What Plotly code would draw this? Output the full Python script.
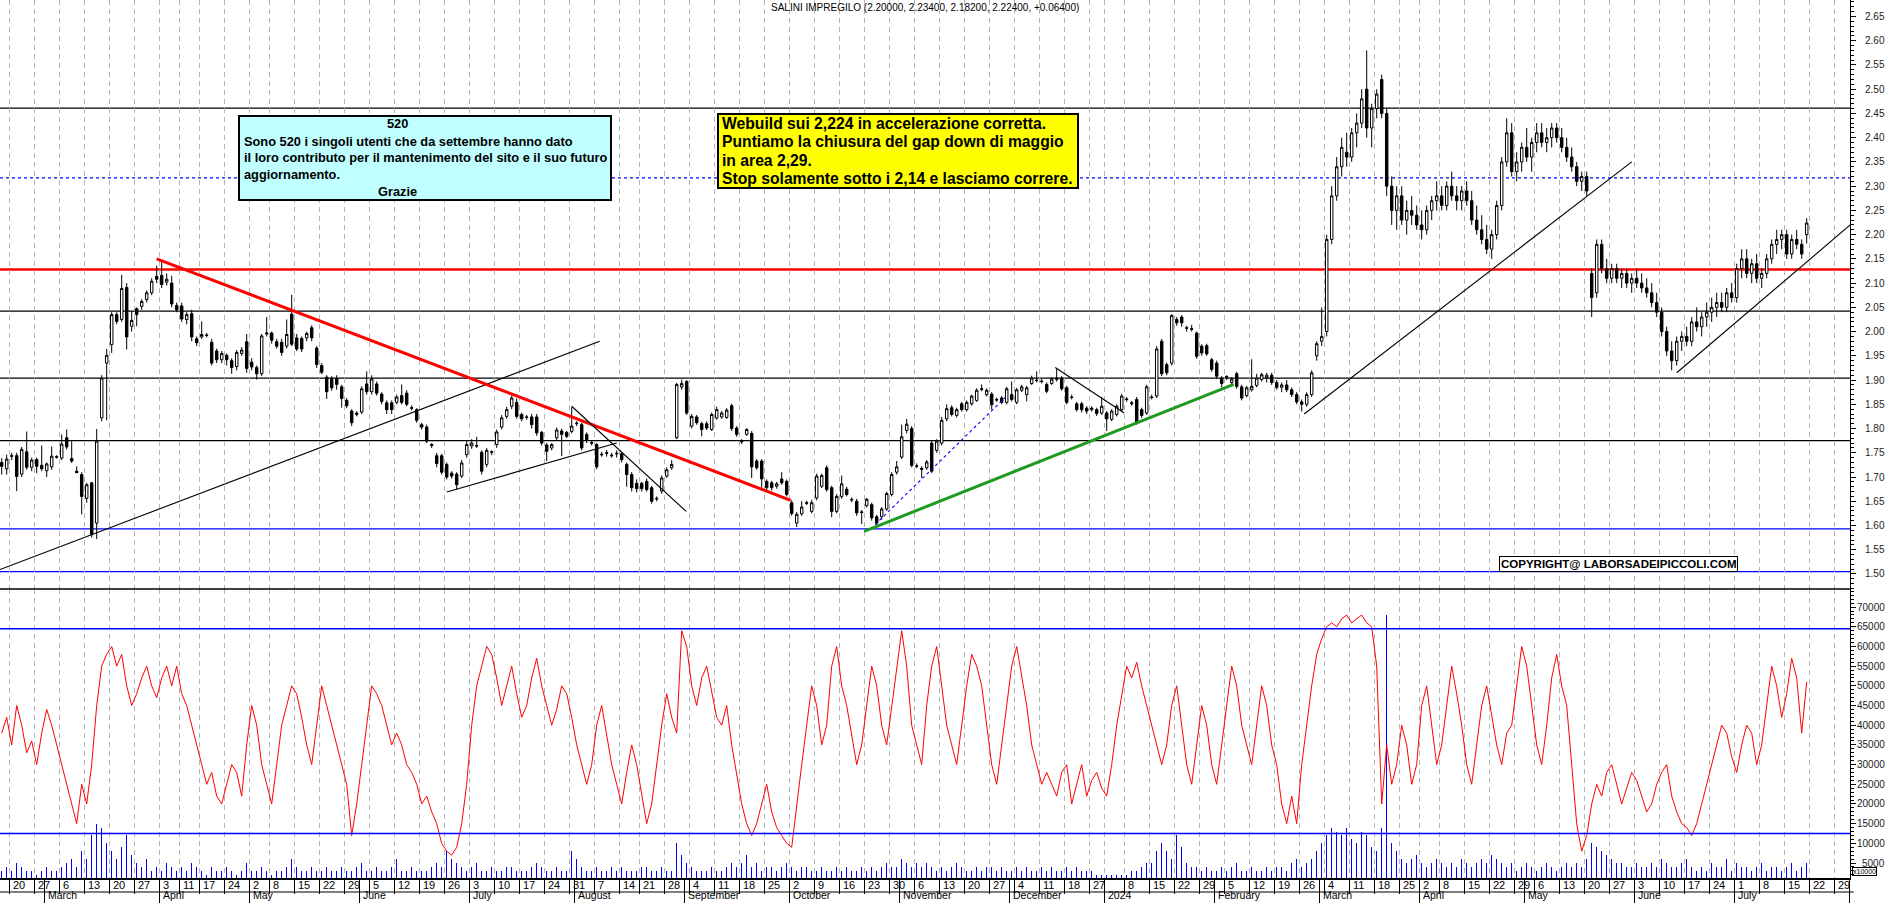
import pandas as pd
import plotly.graph_objects as go
from plotly.subplots import make_subplots

TITLE = "SALINI IMPREGILO (2.20000, 2.23400, 2.18200, 2.22400, +0.06400)"
START, END = "2023-02-16", "2024-07-31"
HOLIDAYS = ["2023-04-07", "2023-04-10", "2023-05-01", "2023-08-15", "2023-12-25",
            "2023-12-26", "2024-01-01", "2024-03-29", "2024-04-01", "2024-05-01"]

opens = [
1.730,1.717,1.744,1.744,1.706,1.752,1.720,1.736,1.724,1.713,
1.721,1.742,1.739,1.781,1.738,1.712,1.705,1.656,1.688,1.605,
1.822,1.935,1.973,2.035,2.025,2.091,2.011,2.047,2.052,2.066,
2.080,2.114,2.116,2.102,2.100,2.054,2.053,2.025,2.037,1.985,
1.989,1.993,1.978,1.960,1.942,1.951,1.940,1.928,1.955,1.979,
1.937,1.926,1.913,1.995,1.997,1.979,1.978,1.970,2.036,1.987,
1.986,1.987,2.008,1.966,1.930,1.906,1.903,1.903,1.886,1.858,
1.836,1.829,1.834,1.892,1.876,1.892,1.871,1.853,1.853,1.854,
1.868,1.873,1.843,1.839,1.808,1.803,1.767,1.744,1.744,1.726,
1.708,1.706,1.702,1.746,1.764,1.765,1.751,1.726,1.752,1.767,
1.803,1.825,1.846,1.854,1.829,1.824,1.824,1.824,1.792,1.766,
1.760,1.781,1.795,1.792,1.794,1.810,1.808,1.788,1.771,1.767,
1.747,1.750,1.745,1.749,1.748,1.726,1.705,1.687,1.687,1.691,
1.678,1.656,1.671,1.702,1.719,1.781,1.886,1.897,1.805,1.824,
1.810,1.810,1.798,1.822,1.824,1.823,1.847,1.801,1.774,1.788,
1.790,1.733,1.733,1.691,1.688,1.681,1.696,1.691,1.647,1.605,
1.624,1.647,1.629,1.657,1.681,1.719,1.678,1.629,1.660,1.675,
1.654,1.650,1.628,1.641,1.643,1.618,1.618,1.634,1.664,1.710,
1.741,1.796,1.800,1.723,1.718,1.719,1.770,1.755,1.770,1.820,
1.843,1.827,1.851,1.839,1.851,1.858,1.882,1.870,1.871,1.860,
1.863,1.854,1.870,1.854,1.879,1.870,1.893,1.900,1.898,1.891,
1.893,1.901,1.904,1.884,1.865,1.851,1.851,1.842,1.839,1.839,
1.832,1.832,1.819,1.829,1.839,1.861,1.851,1.860,1.839,1.832,
1.865,1.867,1.980,1.932,1.935,2.025,2.030,2.008,2.006,1.997,
1.970,1.971,1.942,1.935,1.904,1.907,1.895,1.913,1.886,1.868,
1.880,1.889,1.901,1.905,1.910,1.895,1.885,1.890,1.880,1.870,
1.855,1.850,1.870,1.950,1.980,2.000,2.190,2.280,2.340,2.370,
2.360,2.410,2.430,2.500,2.420,2.460,2.520,2.450,2.300,2.250,
2.280,2.230,2.250,2.240,2.220,2.210,2.250,2.270,2.280,2.260,
2.300,2.280,2.270,2.290,2.270,2.230,2.210,2.190,2.170,2.200,
2.260,2.350,2.410,2.330,2.350,2.380,2.360,2.390,2.410,2.390,
2.400,2.420,2.400,2.380,2.360,2.340,2.310,2.320,2.120,2.080,
2.180,2.130,2.110,2.130,2.110,2.120,2.100,2.110,2.100,2.090,
2.080,2.060,2.040,2.000,1.960,1.940,1.980,1.990,1.980,2.020,
2.010,2.030,2.040,2.050,2.060,2.050,2.080,2.070,2.130,2.150,
2.120,2.140,2.110,2.120,2.150,2.180,2.190,2.200,2.160,2.190,
2.180,2.200]

highs = [
1.739,1.746,1.750,1.750,1.762,1.794,1.740,1.740,1.765,1.730,
1.763,1.745,1.788,1.798,1.774,1.722,1.710,1.688,1.690,1.799,
1.910,1.964,2.040,2.040,2.117,2.100,2.042,2.050,2.067,2.085,
2.110,2.136,2.145,2.120,2.115,2.060,2.060,2.040,2.045,1.990,
2.021,1.997,1.985,1.965,1.960,1.955,1.945,1.962,1.968,1.995,
1.945,1.930,1.995,2.030,2.000,1.985,1.985,2.025,2.076,1.995,
1.990,2.000,2.013,1.970,1.935,1.910,1.908,1.910,1.890,1.863,
1.840,1.836,1.887,1.918,1.910,1.897,1.875,1.858,1.858,1.870,
1.891,1.879,1.848,1.842,1.812,1.808,1.770,1.750,1.748,1.730,
1.712,1.710,1.735,1.774,1.778,1.783,1.755,1.760,1.755,1.798,
1.828,1.845,1.868,1.862,1.833,1.828,1.830,1.830,1.795,1.770,
1.770,1.802,1.800,1.795,1.844,1.815,1.812,1.792,1.775,1.770,
1.752,1.756,1.750,1.755,1.752,1.730,1.710,1.695,1.690,1.697,
1.682,1.660,1.703,1.720,1.735,1.894,1.901,1.900,1.830,1.828,
1.814,1.815,1.833,1.845,1.836,1.842,1.851,1.805,1.778,1.801,
1.795,1.737,1.737,1.695,1.692,1.690,1.710,1.695,1.652,1.628,
1.650,1.651,1.653,1.707,1.707,1.724,1.682,1.665,1.703,1.680,
1.658,1.655,1.632,1.657,1.647,1.622,1.638,1.670,1.710,1.733,
1.808,1.820,1.805,1.728,1.722,1.735,1.775,1.778,1.824,1.850,
1.848,1.843,1.855,1.858,1.870,1.883,1.891,1.883,1.875,1.864,
1.867,1.886,1.897,1.884,1.890,1.888,1.909,1.918,1.902,1.895,
1.906,1.925,1.908,1.888,1.870,1.855,1.855,1.846,1.846,1.843,
1.865,1.836,1.840,1.850,1.871,1.865,1.857,1.865,1.843,1.890,
1.870,1.970,1.985,1.936,2.036,2.030,2.034,2.012,2.014,2.000,
1.974,1.975,1.946,1.940,1.908,1.910,1.906,1.917,1.890,1.888,
1.943,1.913,1.915,1.915,1.915,1.900,1.895,1.900,1.885,1.875,
1.860,1.875,1.920,1.980,2.050,2.200,2.300,2.360,2.400,2.410,
2.420,2.450,2.500,2.580,2.470,2.500,2.530,2.460,2.320,2.300,
2.300,2.270,2.280,2.260,2.250,2.260,2.280,2.310,2.300,2.310,
2.330,2.300,2.300,2.310,2.290,2.260,2.240,2.220,2.210,2.270,
2.360,2.440,2.430,2.370,2.390,2.420,2.400,2.430,2.430,2.420,
2.430,2.430,2.420,2.400,2.380,2.350,2.330,2.330,2.130,2.190,
2.190,2.150,2.140,2.140,2.130,2.130,2.120,2.130,2.120,2.110,
2.100,2.080,2.050,2.010,1.980,1.990,2.000,2.010,2.030,2.050,
2.040,2.060,2.070,2.080,2.080,2.090,2.100,2.140,2.170,2.170,
2.150,2.160,2.130,2.160,2.190,2.210,2.210,2.210,2.200,2.210,
2.190,2.234]

lows = [
1.705,1.705,1.735,1.671,1.700,1.715,1.712,1.708,1.712,1.700,
1.715,1.738,1.735,1.757,1.729,1.708,1.623,1.647,1.575,1.572,
1.815,1.817,1.956,2.015,2.020,1.963,2.000,2.011,2.045,2.060,
2.075,2.100,2.090,2.095,2.050,2.040,2.020,2.015,1.980,1.970,
1.985,1.988,1.930,1.935,1.935,1.930,1.913,1.920,1.950,1.915,
1.920,1.901,1.908,1.990,1.975,1.965,1.950,1.965,1.970,1.960,
1.958,1.980,1.980,1.925,1.912,1.861,1.878,1.880,1.843,1.842,
1.805,1.825,1.830,1.870,1.870,1.868,1.850,1.830,1.830,1.850,
1.850,1.846,1.838,1.812,1.798,1.770,1.760,1.720,1.705,1.695,
1.697,1.674,1.698,1.740,1.758,1.760,1.705,1.720,1.745,1.760,
1.798,1.820,1.840,1.820,1.815,1.818,1.800,1.785,1.765,1.733,
1.755,1.775,1.743,1.780,1.790,1.805,1.755,1.770,1.765,1.716,
1.742,1.742,1.740,1.740,1.730,1.680,1.670,1.668,1.670,1.670,
1.645,1.650,1.665,1.698,1.715,1.778,1.880,1.828,1.800,1.808,
1.784,1.797,1.795,1.818,1.820,1.820,1.795,1.783,1.768,1.785,
1.698,1.715,1.678,1.672,1.672,1.676,1.684,1.660,1.620,1.597,
1.620,1.642,1.625,1.652,1.677,1.670,1.617,1.625,1.655,1.660,
1.648,1.620,1.603,1.637,1.610,1.597,1.612,1.630,1.660,1.705,
1.737,1.790,1.720,1.718,1.698,1.715,1.708,1.750,1.765,1.815,
1.825,1.823,1.835,1.835,1.847,1.855,1.877,1.866,1.839,1.855,
1.850,1.850,1.856,1.850,1.875,1.856,1.890,1.895,1.893,1.873,
1.890,1.897,1.878,1.850,1.860,1.835,1.833,1.830,1.835,1.826,
1.828,1.795,1.815,1.825,1.835,1.855,1.847,1.808,1.822,1.828,
1.860,1.863,1.908,1.910,1.930,2.012,2.010,2.000,2.000,1.944,
1.950,1.950,1.917,1.902,1.885,1.900,1.890,1.882,1.858,1.864,
1.876,1.885,1.897,1.895,1.890,1.880,1.875,1.875,1.865,1.850,
1.835,1.845,1.865,1.940,1.970,1.990,2.180,2.270,2.320,2.340,
2.350,2.380,2.420,2.400,2.380,2.440,2.440,2.280,2.220,2.210,
2.220,2.200,2.220,2.210,2.190,2.200,2.230,2.250,2.250,2.250,
2.270,2.250,2.250,2.260,2.220,2.200,2.180,2.160,2.150,2.190,
2.250,2.340,2.320,2.310,2.330,2.350,2.330,2.370,2.380,2.370,
2.380,2.390,2.370,2.350,2.330,2.300,2.290,2.280,2.030,2.070,
2.120,2.100,2.100,2.100,2.090,2.090,2.080,2.090,2.080,2.070,
2.050,2.030,1.990,1.950,1.920,1.930,1.960,1.970,1.970,2.000,
1.990,2.010,2.020,2.030,2.040,2.040,2.060,2.060,2.110,2.110,
2.100,2.100,2.090,2.110,2.140,2.160,2.170,2.150,2.150,2.170,
2.150,2.182]

closes = [
1.722,1.737,1.743,1.701,1.757,1.720,1.735,1.722,1.717,1.727,
1.743,1.741,1.768,1.762,1.733,1.709,1.660,1.684,1.581,1.774,
1.904,1.951,2.035,2.021,2.089,1.989,2.023,2.035,2.062,2.080,
2.104,2.108,2.097,2.108,2.057,2.045,2.026,2.035,1.989,1.977,
1.994,1.992,1.935,1.942,1.955,1.942,1.926,1.957,1.962,1.924,
1.927,1.913,1.991,1.997,1.982,1.970,1.957,1.994,1.974,1.964,
1.964,1.996,1.987,1.932,1.916,1.876,1.884,1.891,1.862,1.847,
1.812,1.832,1.882,1.876,1.902,1.873,1.856,1.839,1.839,1.865,
1.854,1.850,1.842,1.817,1.803,1.774,1.765,1.728,1.710,1.700,
1.702,1.684,1.729,1.767,1.770,1.764,1.712,1.755,1.751,1.793,
1.822,1.839,1.863,1.825,1.820,1.823,1.808,1.791,1.770,1.753,
1.767,1.797,1.788,1.784,1.805,1.811,1.760,1.777,1.770,1.721,
1.746,1.749,1.744,1.748,1.736,1.705,1.678,1.676,1.676,1.674,
1.650,1.655,1.698,1.715,1.726,1.891,1.893,1.832,1.825,1.812,
1.798,1.801,1.829,1.839,1.832,1.838,1.800,1.788,1.773,1.798,
1.721,1.719,1.696,1.678,1.678,1.686,1.688,1.664,1.625,1.623,
1.638,1.646,1.647,1.702,1.703,1.674,1.629,1.660,1.686,1.664,
1.653,1.626,1.627,1.654,1.616,1.605,1.634,1.666,1.705,1.721,
1.783,1.809,1.724,1.722,1.716,1.731,1.712,1.774,1.817,1.841,
1.829,1.839,1.839,1.854,1.867,1.879,1.881,1.879,1.849,1.859,
1.854,1.882,1.860,1.880,1.886,1.884,1.904,1.899,1.897,1.877,
1.902,1.904,1.882,1.854,1.864,1.839,1.839,1.836,1.842,1.831,
1.846,1.820,1.836,1.846,1.867,1.860,1.853,1.813,1.827,1.886,
1.864,1.964,1.913,1.915,2.033,2.018,2.018,2.007,2.005,1.949,
1.956,1.954,1.922,1.908,1.893,1.906,1.902,1.887,1.863,1.884,
1.887,1.904,1.911,1.910,1.895,1.885,1.890,1.880,1.870,1.855,
1.850,1.870,1.915,1.975,1.990,2.190,2.280,2.340,2.380,2.360,
2.410,2.430,2.480,2.420,2.460,2.490,2.450,2.300,2.250,2.280,
2.230,2.250,2.240,2.220,2.210,2.250,2.270,2.280,2.260,2.300,
2.280,2.270,2.290,2.270,2.230,2.210,2.190,2.170,2.200,2.260,
2.350,2.410,2.330,2.350,2.380,2.360,2.390,2.410,2.390,2.400,
2.420,2.400,2.380,2.360,2.340,2.310,2.320,2.290,2.070,2.180,
2.130,2.110,2.130,2.110,2.120,2.100,2.110,2.100,2.090,2.080,
2.060,2.040,2.000,1.960,1.940,1.980,1.990,1.980,2.020,2.010,
2.030,2.040,2.050,2.060,2.050,2.080,2.070,2.130,2.150,2.120,
2.140,2.110,2.120,2.150,2.180,2.190,2.200,2.160,2.190,2.180,
2.160,2.224]

volume_k = [
3,4,3,5,4,3,3,2,3,4,
3,3,4,5,6,4,8,6,12,15,
14,10,8,6,9,12,7,5,4,6,
3,4,3,5,4,3,4,3,5,4,
3,2,4,3,3,4,3,2,3,5,
3,3,4,3,2,3,3,4,6,4,
3,3,4,3,3,4,3,3,4,3,
3,4,5,3,3,4,3,3,4,6,
3,3,4,3,3,3,4,5,4,8,
6,5,4,3,4,5,3,3,4,3,
3,4,4,3,3,3,4,5,4,3,
3,4,3,3,8,6,4,3,3,4,
3,3,4,3,4,3,3,3,4,4,
3,3,4,3,3,10,7,5,4,3,
3,3,4,3,3,4,5,4,5,7,
4,5,3,4,4,3,4,5,4,3,
4,4,3,3,4,3,3,4,3,4,
3,3,4,3,4,3,4,5,4,4,
6,5,4,5,4,5,4,3,4,3,
4,5,4,3,3,4,3,4,4,3,
4,3,3,4,3,4,3,3,4,3,
4,3,3,4,3,4,3,3,3,2,
2,2,2,2,2,2,3,3,4,5,
5,8,10,8,6,12,9,5,4,4,
3,4,3,3,4,3,4,5,3,3,
4,3,3,4,3,4,4,3,5,6,
4,5,6,8,10,12,14,13,12,14,
11,10,13,12,9,8,14,68,10,8,
6,5,6,7,5,4,5,6,5,4,
5,4,6,5,4,5,6,5,7,6,
5,4,5,3,4,5,4,3,4,5,
4,3,4,5,4,5,4,6,10,9,
8,7,6,5,5,4,4,5,4,4,
5,4,6,5,4,4,5,6,4,3,
4,3,5,4,4,6,3,5,4,4,
3,4,5,3,4,4,3,4,5,3,
4,5]

oscillator_k = [
38,42,35,45,40,33,36,30,38,44,
40,35,30,25,20,15,25,20,30,45,
55,58,60,55,58,50,45,48,52,55,
50,47,52,55,50,55,48,45,40,35,
30,25,28,22,20,25,30,28,22,35,
45,40,30,25,20,30,40,45,50,48,
42,35,30,40,50,45,40,35,30,25,
12,20,30,40,50,48,45,40,35,38,
35,30,28,25,20,22,18,15,10,8,
7,9,15,25,40,50,55,60,58,52,
45,50,55,48,42,45,52,57,50,45,
40,44,50,48,42,35,30,25,30,40,
45,38,30,25,20,28,35,30,22,15,
20,30,40,48,42,38,64,60,50,45,
52,55,48,42,40,45,35,28,20,15,
12,15,20,25,18,14,12,10,9,20,
30,40,50,45,35,40,55,60,50,45,
38,30,35,45,55,50,40,35,45,55,
64,55,40,35,30,45,55,60,50,40,
35,30,40,50,58,55,50,40,30,25,
35,45,55,60,52,45,35,30,25,28,
25,22,28,30,20,25,30,22,26,28,
24,22,30,40,48,55,52,56,50,45,
40,35,30,35,45,50,40,30,25,35,
45,40,30,25,35,45,55,50,40,35,
30,40,50,45,35,30,20,15,22,15,
30,40,50,58,62,65,66,65,67,68,
66,67,68,66,65,55,20,35,25,30,
40,35,25,30,45,50,40,30,35,45,
55,48,40,30,25,35,45,50,42,35,
30,38,40,50,60,55,45,35,30,40,
52,58,50,45,30,15,8,12,20,25,
22,28,30,25,20,24,28,26,22,18,
20,25,28,30,22,18,15,14,12,15,
20,25,30,35,40,38,32,28,35,40,
38,30,35,45,55,50,42,48,57,52,
38,51]

# horizontal levels drawn on the price panel: (price, colour, width, dash)
price_levels = [(2.461, "black", 1.3, "solid"), (2.317, "#0000ff", 1.3, "3px,3px"),
                (2.128, "#ff0000", 2.6, "solid"), (2.042, "black", 1.3, "solid"),
                (1.904, "black", 1.3, "solid"), (1.775, "black", 1.3, "solid"),
                (1.593, "#0000ff", 1.3, "solid"), (1.505, "#0000ff", 1.3, "solid")]
lower_levels = [64500, 12500]

# trend lines: (start index, start price, end index, end price, colour, width, dash)
trendlines = [
    (-0.34, 1.509, 119.6, 1.980, "black", 1.1, "solid"),
    (31.0, 2.150, 157.8, 1.652, "#ff0000", 3.0, "solid"),
    (89.0, 1.669, 123.0, 1.770, "black", 1.1, "solid"),
    (114.0, 1.846, 136.9, 1.629, "black", 1.1, "solid"),
    (174.7, 1.602, 200.8, 1.865, "#0000ff", 1.1, "3px,3px"),
    (172.5, 1.588, 246.4, 1.891, "#1f9a1f", 3.0, "solid"),
    (210.7, 1.926, 224.5, 1.832, "black", 1.1, "solid"),
    (260.5, 1.830, 326.0, 2.350, "black", 1.1, "solid"),
    (335.0, 1.915, 369.7, 2.220, "black", 1.1, "solid"),
]

cyan_lines = ["Sono 520 i singoli utenti che da settembre hanno dato",
              "il loro contributo per il mantenimento del sito e il suo futuro",
              "aggiornamento."]
yellow_lines = ["Webuild sui 2,224 in accelerazione corretta.",
                "Puntiamo la chiusura del gap down di maggio",
                "in area 2,29.",
                "Stop solamente sotto i 2,14 e lasciamo correre."]
MONTHS = ["January", "February", "March", "April", "May", "June", "July",
          "August", "September", "October", "November", "December"]
price_ticks = [round(1.50 + 0.05 * k, 2) for k in range(24)]
vol_ticks = list(range(5000, 70001, 5000))

n = len(opens)
for arr in (highs, lows, closes, volume_k, oscillator_k):
    assert len(arr) == n, len(arr)

days = pd.bdate_range(START, END)
days = list(days[~days.isin(pd.to_datetime(HOLIDAYS))])
n_axis = len(days)
xi = list(range(n))
volume = [v * 1000 for v in volume_k]
osc = [v * 1000 for v in oscillator_k]

week_idx = [i for i in range(1, n_axis)
            if days[i].isocalendar()[1] != days[i - 1].isocalendar()[1]]
month_idx = [i for i in range(1, n_axis) if days[i].month != days[i - 1].month]
month_ticks = [i - 0.5 for i in month_idx] + [n_axis - 0.5]
week_ticks = [i - 0.5 for i in week_idx]

W, H = 1890, 903
ML, MR, MT, MB = 0, 40, 0, 25
PW, PH = W - ML - MR, H - MT - MB
PRICE_FRAC = 589 / PH
XR = [-0.34, 369.66]


def px(x):
    return (x - ML) / PW


def py(y):
    return 1 - (y - MT) / PH


fig = make_subplots(rows=2, cols=1, shared_xaxes=True, vertical_spacing=0,
                    row_heights=[PRICE_FRAC, 1 - PRICE_FRAC])

fig.add_trace(go.Candlestick(
    x=xi, open=opens, high=highs, low=lows, close=closes,
    increasing=dict(line=dict(color="black", width=1), fillcolor="white"),
    decreasing=dict(line=dict(color="black", width=1), fillcolor="black"),
    whiskerwidth=0, hoverinfo="skip", showlegend=False), row=1, col=1)

for (x0, y0, x1, y1, c, w, d) in trendlines:
    fig.add_trace(go.Scatter(x=[x0, x1], y=[y0, y1], mode="lines",
                             line=dict(color=c, width=w, dash=d),
                             hoverinfo="skip", showlegend=False), row=1, col=1)

fig.add_trace(go.Bar(x=xi, y=volume, marker=dict(color="#0000ff", line=dict(width=0)),
                     width=0.3, hoverinfo="skip", showlegend=False), row=2, col=1)
fig.add_trace(go.Scatter(x=xi, y=osc, mode="lines", line=dict(color="#ff0000", width=1),
                         hoverinfo="skip", showlegend=False), row=2, col=1)

shapes = []
for (p, c, w, d) in price_levels:
    shapes.append(dict(type="line", xref="x domain", yref="y", x0=0, x1=1, y0=p, y1=p,
                       line=dict(color=c, width=w, dash=d), layer="below"))
for v in lower_levels:
    shapes.append(dict(type="line", xref="x2 domain", yref="y2", x0=0, x1=1, y0=v, y1=v,
                       line=dict(color="#0000ff", width=1.4)))
# panel separator and bottom of the day row
shapes.append(dict(type="line", xref="paper", yref="paper", x0=0, x1=1,
                   y0=1 - PRICE_FRAC, y1=1 - PRICE_FRAC, line=dict(color="black", width=1.5)))
shapes.append(dict(type="line", xref="paper", yref="paper", x0=0, x1=1.002,
                   y0=py(892), y1=py(892), line=dict(color="black", width=1.2)))
# text boxes
shapes.append(dict(type="rect", xref="paper", yref="paper", x0=px(239), x1=px(611),
                   y0=py(200), y1=py(116), fillcolor="#c0ffff",
                   line=dict(color="black", width=2)))
shapes.append(dict(type="rect", xref="paper", yref="paper", x0=px(718), x1=px(1078),
                   y0=py(188), y1=py(114), fillcolor="#ffff00",
                   line=dict(color="black", width=2)))

ann = []
ann.append(dict(text=TITLE, xref="paper", yref="paper", x=px(925), y=py(8),
                xanchor="center", yanchor="middle", showarrow=False,
                font=dict(size=10, color="black")))
bold_c = dict(size=12.8, color="black", family="Arial, Liberation Sans, sans-serif")
ann.append(dict(text="<b>520</b>", xref="paper", yref="paper", x=px(397), y=py(123.5),
                xanchor="center", yanchor="middle", showarrow=False, font=bold_c))
for k, t in enumerate(cyan_lines):
    ann.append(dict(text="<b>%s</b>" % t, xref="paper", yref="paper", x=px(242),
                    y=py(141 + 17 * k), xanchor="left", yanchor="middle",
                    showarrow=False, font=bold_c))
ann.append(dict(text="<b>Grazie</b>", xref="paper", yref="paper", x=px(397), y=py(191),
                xanchor="center", yanchor="middle", showarrow=False, font=bold_c))
for k, t in enumerate(yellow_lines):
    ann.append(dict(text="<b>%s</b>" % t, xref="paper", yref="paper", x=px(720),
                    y=py(123.5 + 18.5 * k), xanchor="left", yanchor="middle",
                    showarrow=False, font=dict(size=15.7, color="black")))
ann.append(dict(text="<b>COPYRIGHT@ LABORSADEIPICCOLI.COM</b>", xref="paper", yref="paper",
                x=px(1618), y=py(564), xanchor="center", yanchor="middle", showarrow=False,
                bgcolor="white", bordercolor="black", borderwidth=1, borderpad=1,
                font=dict(size=11.5, color="black")))
ann.append(dict(text="x10000", xref="paper", yref="paper", x=px(1852), y=py(871),
                xanchor="left", yanchor="middle", showarrow=False,
                bordercolor="black", borderwidth=1, borderpad=0,
                font=dict(size=7, color="black")))

# right-hand axis labels, right aligned as in the reference
for v in price_ticks:
    ann.append(dict(text="%.2f" % v, xref="paper", yref="y", x=px(1887), y=v,
                    xanchor="right", yanchor="middle", showarrow=False,
                    font=dict(size=10, color="#222222")))
for v in vol_ticks:
    ann.append(dict(text=str(v), xref="paper", yref="y2", x=px(1887), y=v,
                    xanchor="right", yanchor="middle", showarrow=False,
                    font=dict(size=10, color="#222222")))

# week-start day labels and month labels
for i in week_idx:
    d = days[i]
    if d.month == 1 and i in month_idx:
        continue
    ann.append(dict(text=str(d.day), xref="x2", yref="paper", x=i - 0.5 + 0.35, y=py(884.5),
                    xanchor="left", yanchor="middle", showarrow=False,
                    font=dict(size=11, color="black")))
for i in month_idx:
    d = days[i]
    lab = str(d.year) if d.month == 1 else MONTHS[d.month - 1]
    ann.append(dict(text=lab, xref="x2", yref="paper", x=i - 0.5 + 0.35, y=py(895),
                    xanchor="left", yanchor="middle", showarrow=False,
                    font=dict(size=10.5, color="black")))
ann.append(dict(text="A", xref="x2", yref="paper", x=n_axis - 0.5 + 0.35, y=py(895),
                xanchor="left", yanchor="middle", showarrow=False,
                font=dict(size=10.5, color="black")))

fig.update_layout(
    width=W, height=H, margin=dict(l=ML, r=MR, t=MT, b=MB),
    paper_bgcolor="white", plot_bgcolor="white", showlegend=False,
    font=dict(family="Arial, Liberation Sans, sans-serif", size=10, color="black"),
    shapes=shapes, annotations=ann, bargap=0,
)

grid = dict(tickmode="array", tickvals=week_ticks, showgrid=True, gridcolor="#b4b4b4",
            griddash="5px,4px", gridwidth=1)
fig.update_xaxes(range=XR, rangeslider_visible=False, zeroline=False, showgrid=False)
fig.update_xaxes(row=1, col=1, showticklabels=False, ticks="", showline=False,
                 minor=dict(grid, ticks=""))
fig.update_xaxes(row=2, col=1, showticklabels=False, tickmode="array", tickvals=month_ticks,
                 ticks="outside", ticklen=25, tickcolor="black", tickwidth=1,
                 showline=True, linecolor="black", linewidth=1.5,
                 minor=dict(grid, ticks="outside", ticklen=14, tickcolor="black", tickwidth=1))

fig.update_yaxes(row=1, col=1, side="right", range=[1.469, 2.684], tickmode="array",
                 tickvals=price_ticks, showticklabels=False,
                 ticks="outside", ticklen=5, tickcolor="black", showgrid=False, zeroline=False,
                 showline=True, linecolor="black", linewidth=1,
                 minor=dict(tickmode="linear", tick0=1.5, dtick=0.01, ticks="outside",
                            ticklen=3, tickcolor="black", showgrid=False))
fig.update_yaxes(row=2, col=1, side="right", range=[1200, 74600], tickmode="array",
                 tickvals=vol_ticks, showticklabels=False,
                 ticks="outside", ticklen=5, tickcolor="black", showgrid=False, zeroline=False,
                 showline=True, linecolor="black", linewidth=1,
                 minor=dict(tickmode="linear", tick0=0, dtick=1000, ticks="outside",
                            ticklen=3, tickcolor="black", showgrid=False))

PAGE_FIX = ("document.documentElement.style.margin='0';document.body.style.margin='0';"
            "document.body.style.padding='0';document.body.style.overflow='hidden';"
            "document.documentElement.style.overflow='hidden';")
fig.write_html("out.html", post_script=PAGE_FIX,
               config={"displayModeBar": False, "staticPlot": True})
